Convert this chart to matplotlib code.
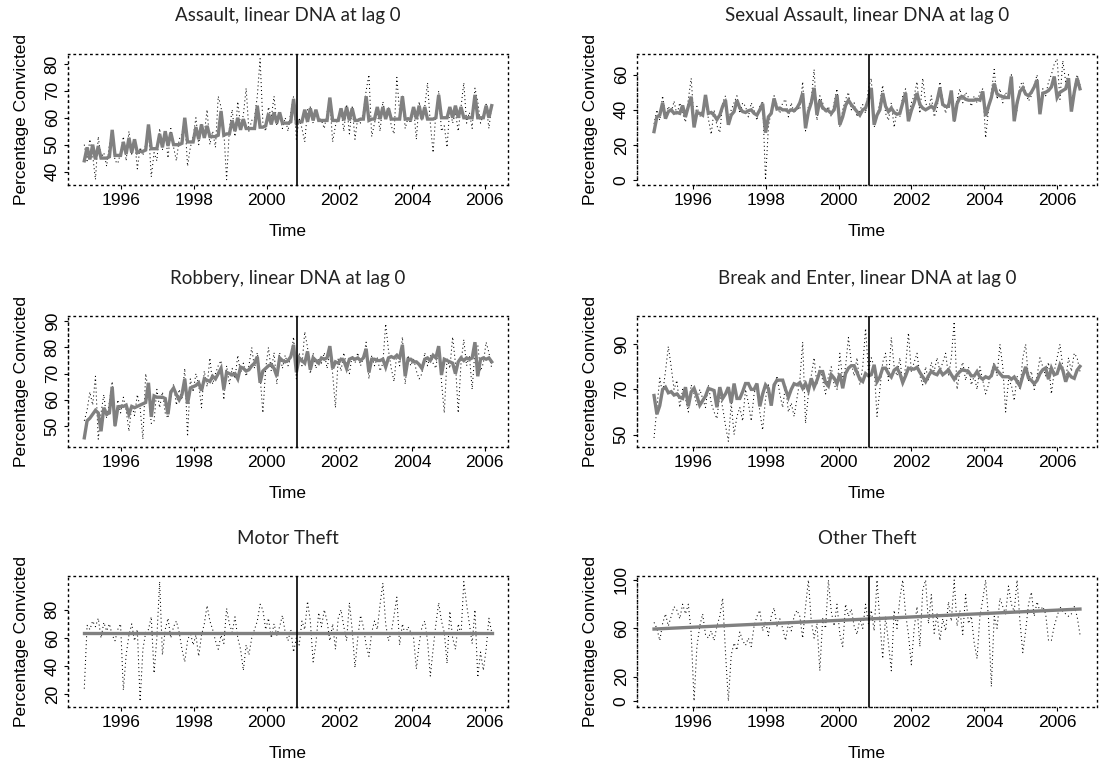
import numpy as np
import matplotlib
matplotlib.use('Agg')
import matplotlib.pyplot as plt
import matplotlib.transforms as mtransforms

LABEL_FONT = ['Liberation Sans Narrow', 'Liberation Sans', 'DejaVu Sans']
TITLE_FONT = ['Lato', 'DejaVu Sans']
plt.rcParams['font.family'] = LABEL_FONT

# observation window of each column (first and last period, in years)
span_left = (1994.98, 2006.19)
span_right = (1994.93, 2006.63)
dna_left = 2000.82
dna_right = 2000.83

titles = ['Assault, linear DNA at lag 0', 'Sexual Assault, linear DNA at lag 0',
          'Robbery, linear DNA at lag 0', 'Break and Enter, linear DNA at lag 0',
          'Motor Theft', 'Other Theft']

# Assault (13 periods a year)
assault_fit = [
    44, 49, 44.5, 50, 44.5, 49.5, 45, 45, 45, 45.5, 55.5, 46, 46,
    46, 51, 46.5, 52.5, 47, 52, 47, 47.5, 47.5, 48, 57.5, 48.5, 48.5,
    48.5, 54, 49, 55, 49.5, 54.5, 50, 50, 50, 50.5, 60, 51, 51,
    51, 56.5, 52, 57.5, 52.5, 57, 53, 53, 53, 53.5, 62.5, 53.5, 54,
    54, 59, 55, 60, 55.5, 59.5, 56, 56, 56, 56, 64.5, 56.5, 56.5,
    57, 61.5, 57.5, 62, 58, 62, 58, 58, 58, 58.5, 67, 58, 58.5,
    58.5, 63, 58.5, 63.5, 59, 63, 59, 59, 59, 59, 67.5, 59, 59,
    59, 63.5, 59, 64, 59, 63.5, 59, 59, 59.5, 59.5, 68, 59, 59.5,
    59.5, 64, 59.5, 64, 59.5, 63.5, 59.5, 59.5, 59.5, 59.5, 68, 59.5, 59.5,
    59.5, 64, 59.5, 64.5, 59.5, 64, 59.5, 59.5, 59.5, 60, 68.5, 60, 60,
    60, 64, 60, 64.5, 60, 64, 60, 60, 60, 60, 68.5, 60, 60,
    60, 64.5, 60, 64.5]
assault_obs = [
    50, 44, 52, 46, 37, 53, 45, 47, 42, 50, 55, 44, 43,
    47, 53, 44, 55, 46, 52, 41, 49, 46, 50, 56, 38, 47,
    44, 56, 48, 55, 45, 56, 49, 44, 52, 54, 60, 42, 49,
    53, 60, 50, 58, 54, 63, 50, 55, 49, 68, 64, 55, 37,
    56, 63, 53, 66, 57, 61, 71, 55, 59, 60, 68, 82, 58,
    55, 64, 60, 68, 57, 62, 56, 60, 55, 62, 68, 52, 60,
    56, 51, 63, 64, 58, 62, 60, 59, 56, 62, 66, 51, 57,
    60, 63, 55, 65, 54, 64, 52, 60, 58, 62, 70, 76, 53,
    58, 62, 55, 66, 60, 64, 57, 54, 75, 62, 68, 56, 60,
    58, 64, 52, 66, 59, 64, 73, 58, 47, 62, 70, 55, 57,
    49, 64, 58, 62, 55, 64, 73, 58, 62, 56, 71, 66, 58,
    61, 65, 56, 65]

# Sexual Assault
sexual_fit = [
    27.6, 36, 37, 44, 35, 39, 40, 38, 38.5, 38, 42.5, 36, 42, 47.5,
    30, 38.5, 38, 37, 48.5, 38, 38.5, 37, 34.5, 37, 42, 45.5,
    31.5, 37, 39, 45.5, 41, 39, 38.5, 39.5, 40, 38, 37, 40, 43.5,
    27, 36, 38, 46.5, 40.5, 41, 40, 40, 39, 40, 39.5, 41, 44, 49.5,
    29.5, 39, 44, 52.5, 37, 45.5, 41, 40, 39.5, 38, 40, 48.5,
    31.5, 36, 42.5, 45.5, 43, 41, 39, 37, 40, 41, 46, 52.5,
    31.5, 37, 40, 49.5, 42, 39, 41, 38.5, 37.5, 38, 44, 49.5,
    33.5, 39.5, 44, 49.5, 43, 41, 40, 41, 42, 40.5, 45, 52.5, 43, 42, 42,
    51, 33.5, 43.5, 47, 47.5, 46, 45.5, 45.5, 45.5, 46, 45.5, 50.5,
    36.5, 42, 47, 55, 49, 48, 47.5, 47, 47, 59, 33.5,
    44, 50.5, 52.5, 49, 48, 50, 53, 57, 37.5, 49.5,
    50, 51, 53, 59, 47, 50, 51, 52, 58, 39,
    50, 58, 52]
sexual_obs = [
    32, 40, 34, 48, 36, 42, 38, 45, 37, 44, 38, 33, 46, 58,
    33, 42, 36, 40, 46, 35, 26, 40, 31, 27, 44, 48,
    34, 40, 44, 48, 38, 44, 42, 36, 44, 40, 34, 42, 45,
    0, 30, 40, 48, 43, 38, 44, 46, 36, 44, 38, 42, 40, 56,
    28, 42, 46, 63, 34, 48, 44, 38, 42, 36, 44, 52,
    30, 40, 46, 50, 40, 44, 36, 40, 43, 38, 52, 58,
    30, 36, 44, 54, 38, 34, 44, 30, 40, 36, 48, 52,
    36, 44, 48, 56, 38, 58, 44, 40, 48, 36, 40, 56, 46, 38, 45,
    50, 33, 46, 52, 44, 50, 47, 42, 48, 44, 50, 52,
    24, 40, 50, 63, 46, 52, 44, 50, 46, 60, 34,
    40, 54, 56, 50, 45, 48, 54, 60, 40, 52,
    48, 56, 60, 66, 69, 46, 68, 56, 60, 44,
    52, 60, 54]

# Robbery (13 periods a year)
robbery_fit = [
    45.5, 52, 53, 54.5, 56, 55, 48, 57, 54.5, 55, 65, 50, 57,
    57.5, 57.5, 58, 54.5, 57.5, 57, 57.5, 58, 58.5, 59, 66.5, 53.5, 61.5,
    61, 61, 61, 60.5, 54.5, 63, 64.5, 62, 60, 62, 68, 58.5, 64.5,
    65, 65.5, 66.5, 63.5, 68, 67.5, 67, 69, 68, 70, 72, 64, 70.5,
    70, 69.5, 70, 68, 72.5, 72, 71, 71.5, 73, 74, 76.5, 66.5, 71,
    72, 73, 73.5, 72, 69, 76, 75, 74.5, 75, 76.5, 81, 70.5, 76,
    75, 74, 78.5, 71.5, 76, 75, 74, 76, 75.5, 76, 80.5, 72, 74.5,
    74, 75.5, 75, 72, 75.5, 76, 75.5, 76, 75, 76, 79.5, 70.5, 75.5,
    75.5, 75, 75, 75.5, 72.5, 76, 76.5, 76, 77, 76, 81, 69, 75.5,
    75.5, 74.5, 74.5, 73.5, 72, 75.5, 76, 75, 77, 76, 80.5, 69.5, 75.5,
    75, 74.5, 74, 70, 74.5, 76, 75, 76, 75.5, 76, 82, 69, 75.5,
    76, 75.5, 76, 74.5]
robbery_obs = [
    52, 56, 63, 58, 69, 45, 55, 62, 53, 59, 67, 50, 60,
    55, 61, 56, 48, 58, 54, 62, 57, 45, 70, 63, 51, 52,
    64, 57, 63, 55, 53, 61, 66, 58, 64, 60, 72, 46, 68,
    63, 70, 66, 57, 71, 65, 76, 66, 70, 73, 75, 60, 73,
    66, 72, 68, 77, 70, 74, 69, 73, 80, 72, 78, 69, 55,
    72, 80, 71, 78, 66, 78, 72, 77, 73, 76, 84, 68, 78,
    73, 86, 80, 70, 78, 72, 76, 74, 78, 72, 78, 70, 57,
    76, 71, 78, 73, 70, 77, 74, 78, 73, 76, 82, 68, 77,
    73, 76, 71, 74, 89, 79, 72, 67, 78, 73, 84, 66, 77,
    73, 76, 71, 68, 70, 78, 73, 77, 74, 72, 81, 67, 55,
    76, 72, 84, 74, 55, 74, 83, 73, 77, 64, 79, 81, 71,
    74, 82, 78, 72]

# Break and Enter
break_fit = [
    67.3, 59, 62.8, 70, 71, 68.5, 69, 67.5, 68, 66.5, 66, 71, 62.5, 68.9,
    70.5, 67, 63, 65, 67, 70.4, 70, 69.5, 62.1, 71, 66, 68,
    71, 64, 72.6, 66, 66, 69, 72.6, 72.6, 70, 70, 72.6, 62.5, 68,
    72, 70.4, 62.8, 72, 74.1, 74.1, 74.1, 70, 66.5, 70, 72.5, 72, 73, 70.5,
    72.6, 69.5, 74.9, 71, 74, 77.9, 77.9, 73, 71.5, 76.5, 75, 72.5,
    77, 70.5, 77, 79.4, 80.5, 80.5, 77.5, 74.5, 73.5, 77, 76, 76.5,
    80.9, 73.4, 75.5, 79.4, 79.4, 77, 75.5, 78.5, 79.5, 77, 73, 76,
    79.4, 79, 79, 79.8, 77.5, 75.5, 73.5, 76, 78, 77, 76.5, 78.5, 76.5, 77.5, 78.7,
    76.5, 74.5, 76.5, 77.9, 78.7, 78.3, 77.9, 76, 76, 77.9, 75.5, 74.5,
    75.6, 75, 76, 80.2, 78.5, 77, 75.6, 75.6, 75.6, 74.5, 75.5,
    73.5, 71.5, 76, 80, 75, 74, 72.5, 74, 77, 78.7,
    79.5, 74.5, 79.4, 76.5, 77, 80.9, 78.5, 73.4, 77, 75.5,
    74.9, 78.5, 80.2]
break_obs = [
    48.5, 62, 75, 68, 78, 89, 80, 70, 74, 62, 70, 66, 60, 72,
    68, 63, 70, 66, 62, 72, 64, 60, 57, 68, 62, 54,
    47, 64, 50, 58, 62, 56, 70, 64, 56, 68, 73, 60, 52,
    66, 72, 64, 70, 76, 68, 62, 72, 60, 64, 58, 66, 74, 91,
    55, 68, 76, 84, 72, 80, 74, 68, 76, 80, 72, 70,
    86, 74, 80, 93, 82, 76, 84, 72, 80, 97, 78, 84,
    80, 58, 70, 82, 86, 74, 93, 80, 76, 84, 72, 80,
    95, 78, 82, 86, 76, 72, 80, 74, 82, 78, 84, 78, 82, 86, 76,
    84, 100, 70, 78, 82, 74, 80, 72, 76, 70, 80, 74,
    68, 72, 78, 82, 76, 90, 80, 60, 74, 72, 65,
    76, 70, 84, 90, 74, 78, 70, 76, 84, 80,
    76, 82, 68, 78, 84, 90, 80, 74, 84, 78,
    86, 84, 78]

# Motor Theft (fit is a constant level)
motor_fit = [63.5, 63.5]
motor_obs = [
    24, 69, 66, 72, 68, 74, 60, 71, 65, 70, 62, 58, 66, 70,
    23, 48, 62, 70, 58, 66, 15, 52, 64, 66, 75, 35, 60,
    100, 48, 66, 74, 60, 68, 72, 64, 52, 43, 58, 64, 55, 62,
    47, 62, 70, 83, 72, 66, 58, 52, 62, 56, 81, 70,
    64, 75, 60, 52, 37, 55, 48, 60, 66, 72, 84, 80,
    66, 74, 60, 70, 62, 68, 76, 64, 58, 66, 50, 60,
    55, 72, 66, 86, 72, 43, 56, 78, 68, 80, 72,
    58, 70, 52, 74, 80, 68, 58, 85, 66, 39, 60,
    76, 68, 55, 47, 64, 72, 66, 84, 99, 70,
    58, 64, 76, 89, 55, 70, 62, 68, 64, 60, 38,
    56, 68, 72, 58, 33, 52, 70, 85, 72, 64, 42, 79,
    60, 52, 70, 62, 100, 84, 70, 56, 80, 32, 50, 37,
    52, 74, 64]

# Other Theft (fit is a straight trend)
other_fit = [59.5, 76.0]
other_obs = [
    65, 60, 50, 64, 72, 62, 70, 78, 75, 68, 80, 72, 80, 56,
    0, 45, 62, 72, 55, 52, 58, 50, 62, 70, 85, 40,
    0, 38, 48, 42, 57, 50, 46, 52, 45, 62, 70, 75, 58,
    66, 54, 70, 77, 62, 68, 60, 50, 64, 58, 70, 75, 70, 52,
    78, 100, 66, 52, 64, 25, 68, 60, 100, 74, 62, 80,
    55, 45, 80, 70, 76, 62, 55, 68, 60, 80, 64, 75,
    58, 100, 66, 35, 70, 48, 25, 75, 60, 85, 100, 72,
    55, 30, 60, 78, 45, 92, 100, 64, 88, 56, 72, 50, 68, 58, 82,
    66, 100, 62, 75, 55, 88, 64, 70, 48, 35, 70, 84,
    100, 68, 12, 70, 60, 85, 78, 72, 95, 80, 74,
    100, 66, 40, 58, 80, 90, 70, 82, 74, 78,
    72, 50, 50, 62, 70, 78, 74, 72, 70, 72,
    78, 70, 55]

year_ticks = [1996, 1998, 2000, 2002, 2004, 2006]
panels = [
    (titles[0], span_left, assault_obs, assault_fit, dna_left, (35.0, 83.7), [40, 50, 60, 70, 80]),
    (titles[1], span_right, sexual_obs, sexual_fit, dna_right, (-2.8, 71.8), [0, 20, 40, 60]),
    (titles[2], span_left, robbery_obs, robbery_fit, dna_left, (42.0, 92.0), [50, 60, 70, 80, 90]),
    (titles[3], span_right, break_obs, break_fit, dna_right, (44.5, 102.5), [50, 70, 90]),
    (titles[4], span_left, motor_obs, motor_fit, dna_left, (11.0, 104.0), [20, 40, 60, 80]),
    (titles[5], span_right, other_obs, other_fit, dna_right, (-4.9, 103.3), [0, 20, 60, 100]),
]

W, H = 1110, 765
fig = plt.figure(figsize=(W / 100, H / 100), dpi=100)
col_left = [68, 637]
col_width = [440, 460]
row_top = [54, 316, 576]
box_h = 131
dot = (0, (1, 3))

for k, (title, span, obs, fit, vline, ylim, yticks) in enumerate(panels):
    r, c = divmod(k, 2)
    box_w = col_width[c]
    ax = fig.add_axes([col_left[c] / W, 1 - (row_top[r] + box_h) / H, box_w / W, box_h / H])
    t = np.linspace(span[0], span[1], len(obs))
    tf = np.linspace(span[0], span[1], len(fit))
    ax.plot(t, obs, color='black', lw=0.75, ls=(0, (1, 2.8)))
    ax.plot(tf, fit, color='#808080', lw=2.4, solid_joinstyle='miter')
    ax.axvline(vline, color='black', lw=1.2)

    pad = 0.04 * (span[1] - span[0])
    ax.set_xlim(span[0] - pad, span[1] + pad)
    ax.set_ylim(*ylim)
    ax.set_xticks(year_ticks)
    ax.set_yticks(yticks)
    ax.set_yticklabels([str(v) for v in yticks], rotation=90, va='center')
    ax.tick_params(direction='out', length=3, width=0.8, labelsize=12.5)
    ax.tick_params(axis='x', pad=3)
    ax.tick_params(axis='y', pad=3)
    for s in ax.spines.values():
        s.set_linestyle(dot)
        s.set_linewidth(1.0)

    # axis lines between the outer ticks, over the dotted box
    bx = mtransforms.blended_transform_factory(ax.transData, ax.transAxes)
    ax.plot([year_ticks[0], year_ticks[-1]], [0, 0], transform=bx, color='black',
            lw=1.0, ls=(2, (1, 3)), clip_on=False)
    by = mtransforms.blended_transform_factory(ax.transAxes, ax.transData)
    ax.plot([0, 0], [yticks[0], yticks[-1]], transform=by, color='black',
            lw=1.0, ls=(2, (1, 3)), clip_on=False)

    ax.text(0.5, 1 + 38 / box_h, title, transform=ax.transAxes, ha='center',
            va='center', fontsize=13.5, family=TITLE_FONT, color='#222222')
    ax.text(0.5, -47 / box_h, 'Time', transform=ax.transAxes, ha='center',
            va='center', fontsize=12.5)
    ax.text(-46 / box_w, 0.5, 'Percentage Convicted', transform=ax.transAxes,
            ha='center', va='center', rotation=90, fontsize=12.5)

fig.savefig('out.png', dpi=100)
